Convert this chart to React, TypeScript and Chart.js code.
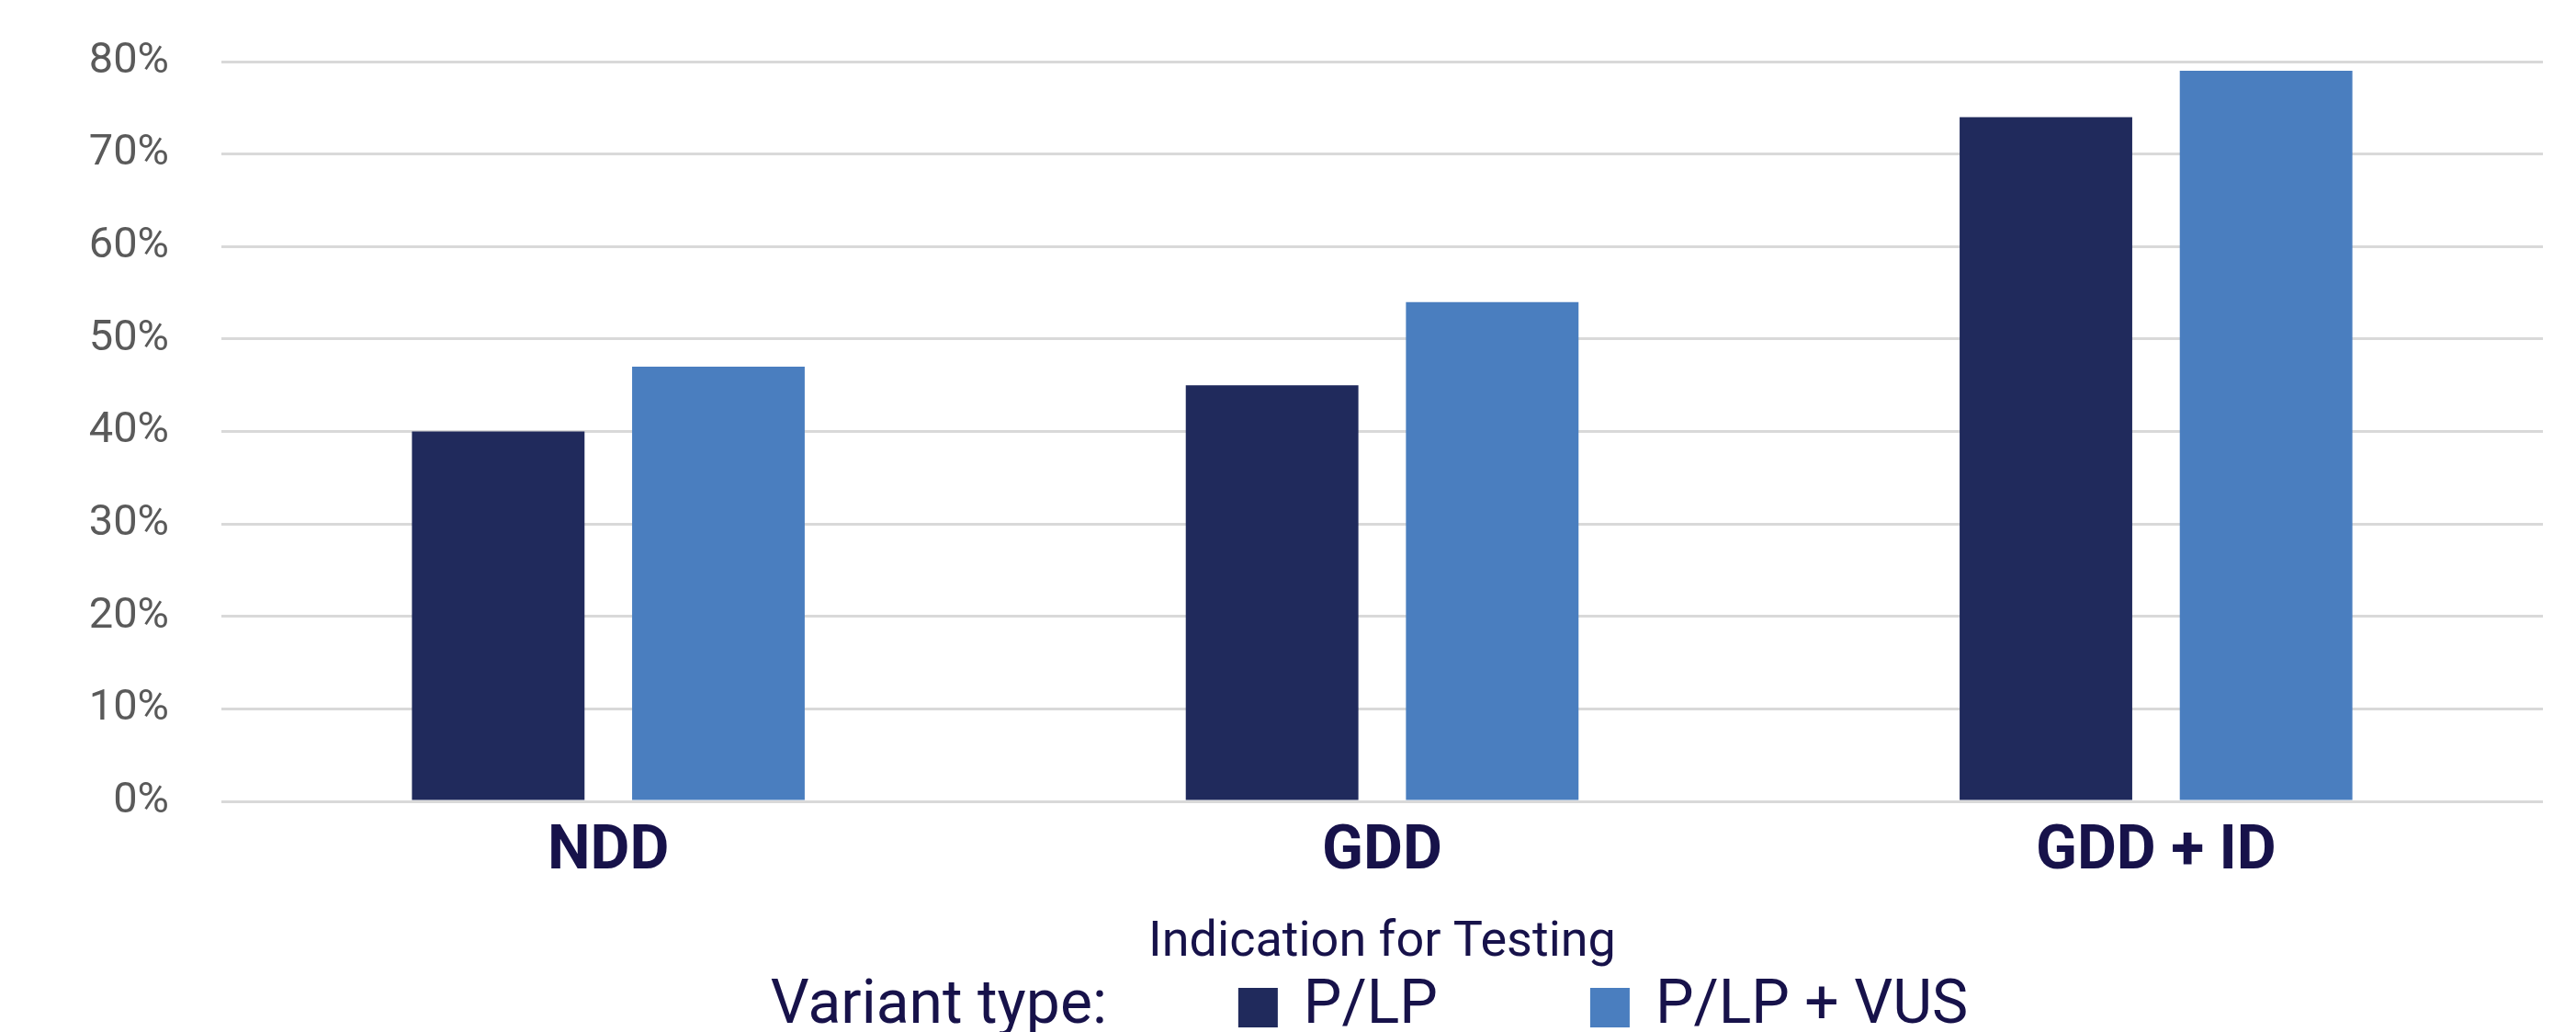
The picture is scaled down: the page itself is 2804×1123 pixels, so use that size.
import React, { useEffect, useRef } from "react";
import { Chart, registerables } from "chart.js";

Chart.register(...registerables);

const categories = ["NDD", "GDD", "GDD + ID"];
const seriesLabels = ["P/LP", "P/LP + VUS"];
const plpValues = [40, 45, 74];
const plpVusValues = [47, 54, 79];
const yMin = 0;
const yMax = 80;
const yStep = 10;
const xAxisTitle = "Indication for Testing";
const legendTitle = "Variant type:";

const DARK = "#202A5C";
const LIGHT = "#4A7EBF";
const TEXT = "#17124A";
const GRID = "#D9D9D9";
const TICK = "#5A5A5A";
const FONT = "Roboto";

const inlineLegend = {
  id: "inlineLegend",
  afterDraw(chart: any) {
    const ctx = chart.ctx as CanvasRenderingContext2D;
    ctx.save();
    ctx.font = `400 66px ${FONT}`;
    ctx.textBaseline = "alphabetic";
    ctx.textAlign = "left";
    const baseline = chart.height - 10;
    const box = 43;
    const boxGap = 28;
    const itemGap = 166;
    const titleGap = 143;
    const items = chart.data.datasets.map((d: any) => ({ label: d.label, color: d.backgroundColor }));
    let total = ctx.measureText(legendTitle).width + titleGap;
    items.forEach((it: any, i: number) => {
      total += box + boxGap + ctx.measureText(it.label).width + (i < items.length - 1 ? itemGap : 0);
    });
    const ca = chart.chartArea;
    let x = (ca.left + ca.right) / 2 - 14 - total / 2;
    ctx.fillStyle = TEXT;
    ctx.fillText(legendTitle, x, baseline);
    x += ctx.measureText(legendTitle).width + titleGap;
    items.forEach((it: any, i: number) => {
      ctx.fillStyle = it.color;
      ctx.fillRect(x, baseline - 38, box, box);
      x += box + boxGap;
      ctx.fillStyle = TEXT;
      ctx.fillText(it.label, x, baseline);
      x += ctx.measureText(it.label).width + itemGap;
    });
    ctx.restore();
  },
};

export default function App() {
  const ref = useRef<HTMLCanvasElement | null>(null);

  useEffect(() => {
    if (!ref.current) return;
    const chart = new Chart(ref.current, {
      type: "bar",
      data: {
        labels: categories,
        datasets: [
          { label: seriesLabels[0], data: plpValues, backgroundColor: DARK },
          { label: seriesLabels[1], data: plpVusValues, backgroundColor: LIGHT },
        ],
      },
      options: {
        responsive: false,
        animation: false,
        devicePixelRatio: 1,
        layout: { padding: { left: 0, right: 36, top: 67, bottom: 0 } },
        datasets: {
          bar: { categoryPercentage: 0.569, barPercentage: 0.784 },
        },
        plugins: {
          legend: { display: false },
          tooltip: { enabled: false },
          title: { display: false },
        },
        scales: {
          x: {
            grid: { display: false },
            border: { display: false },
            ticks: {
              color: TEXT,
              font: { family: FONT, size: 66, weight: "bold" },
              padding: 9,
              maxRotation: 0,
            },
            title: {
              display: true,
              text: xAxisTitle,
              color: TEXT,
              font: { family: FONT, size: 54, weight: "normal" },
              padding: { top: 0, bottom: 64 },
            },
            afterFit(scale: any) {
              scale.height = 251;
            },
          },
          y: {
            min: yMin,
            max: yMax,
            border: { display: false },
            grid: { color: GRID, lineWidth: 3, drawTicks: false },
            ticks: {
              stepSize: yStep,
              padding: 57,
              color: TICK,
              font: { family: FONT, size: 47, weight: "normal", lineHeight: 0.4 },
              callback: (v: any) => `${v}%`,
            },
            afterFit(scale: any) {
              scale.width = 241;
            },
          },
        },
      },
      plugins: [inlineLegend],
    });
    return () => chart.destroy();
  }, []);

  return (
    <div style={{ position: "absolute", left: 0, top: 0, width: 2804, height: 1123, overflow: "hidden", background: "#fff" }}>
      <canvas ref={ref} width={2804} height={1123} style={{ display: "block" }} />
    </div>
  );
}
